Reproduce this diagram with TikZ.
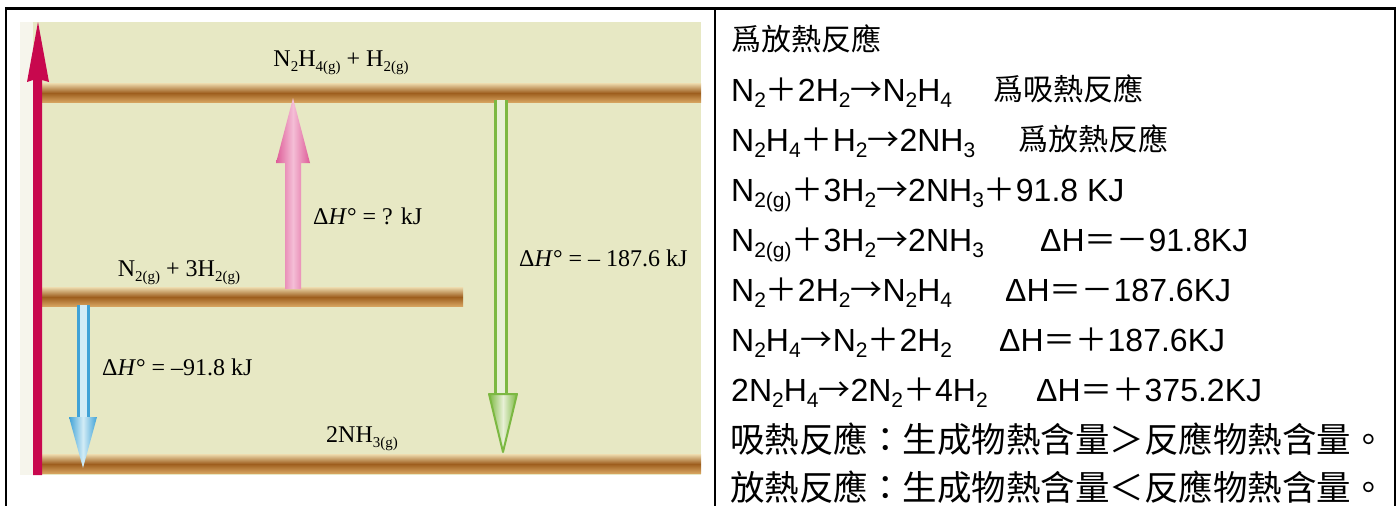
\documentclass[tikz,border=0pt]{standalone}
\usepackage{fontspec}
\setmainfont{Liberation Serif}
\newfontfamily\sansf{Liberation Sans}
\newfontfamily\cjk{Noto Sans CJK TC}
\definecolor{bgyel}{RGB}{231,232,196}
\definecolor{bgwhite}{RGB}{246,245,236}
\definecolor{tanlight}{RGB}{234,214,168}
\definecolor{tanmid}{RGB}{216,166,98}
\definecolor{browndark}{RGB}{158,94,30}
\definecolor{crim}{RGB}{200,8,78}
\definecolor{pinkA}{RGB}{222,92,152}
\definecolor{pinkB}{RGB}{244,190,214}
\definecolor{greenA}{RGB}{124,184,66}
\definecolor{greenB}{RGB}{232,240,214}
\definecolor{blueA}{RGB}{64,162,214}
\definecolor{blueB}{RGB}{210,236,246}
\newcommand\sbs[1]{\raisebox{-6.5pt}{\fontsize{21}{21}\selectfont #1}}
\newcommand\dsb[1]{\raisebox{-5pt}{\fontsize{15}{15}\selectfont #1}}
\newcommand\ck[1]{{\cjk #1}}
\tikzset{
  rtext/.style={anchor=base west, inner sep=0pt, font=\sansf\fontsize{32}{32}\selectfont},
  rsmall/.style={anchor=base west, inner sep=0pt, font=\cjk\fontsize{30}{30}\selectfont},
  rbig/.style={anchor=base west, inner sep=0pt, font=\cjk\fontsize{34.5}{34.5}\selectfont},
  dtext/.style={inner sep=0pt, font=\fontsize{24}{24}\selectfont},
  rule/.style={line width=2.5pt}
}
\newcommand\level[3]{\shade[top color=tanlight, bottom color=tanmid, middle color=browndark] (#1,#3-9.5) rectangle (#2,#3+9.5);}
\begin{document}
\begin{tikzpicture}[x=1pt,y=-1pt]
\useasboundingbox (0,0) rectangle (1400,506);
% picture background
\fill[bgyel] (20,22) rectangle (701,475);
\fill[bgwhite] (20,22) rectangle (33,475);
% levels
\level{41}{701}{93}
\level{41}{463}{297}
\level{41}{701}{464}
% red axis arrow
\fill[crim] (33,475) -- (33,80) -- (27,82) -- (38,22) -- (49,82) -- (42,80) -- (42,475) -- cycle;
% pink arrow
\shade[left color=pinkA, right color=pinkA, middle color=pinkB]
  (285,289) -- (285,163) -- (276,163) -- (293,98) -- (310,163) -- (301,163) -- (301,289) -- cycle;
% green arrow
\fill[greenB] (494,100) rectangle (508,395);
\draw[greenA, line width=3pt] (495.5,100) -- (495.5,394);
\draw[greenA, line width=3pt] (506.5,100) -- (506.5,394);
\shade[left color=greenA, right color=greenA, middle color=greenB, draw=greenA, line width=2pt, line join=round]
  (489,394) -- (517,394) -- (503,452) -- cycle;
% blue arrow
\fill[blueB] (77,305) rectangle (89,418);
\draw[blueA, line width=3pt] (78.5,305) -- (78.5,417);
\draw[blueA, line width=3pt] (88,305) -- (88,417);
\shade[left color=blueA, right color=blueA, middle color=blueB]
  (69,417) -- (97,417) -- (83,468) -- cycle;
% diagram labels
\node[dtext, anchor=base] (top) at (341,66) {N\dsb{2}H\dsb{4(g)} + H\dsb{2(g)}};
\node[dtext, anchor=base west] (dq) at (313,224) {Δ\textit{H}° = ? kJ};
\node[dtext, anchor=base west] (dg) at (519,266) {Δ\textit{H}° = – 187.6 kJ};
\node[dtext, anchor=base] (mid) at (179,276) {N\dsb{2(g)} + 3H\dsb{2(g)}};
\node[dtext, anchor=base west] (db) at (102,375) {Δ\textit{H}° = –91.8 kJ};
\node[dtext, anchor=base] (bot) at (362,442) {2NH\dsb{3(g)}};
% table rules
\draw[rule] (6,8.5) -- (1395,8.5);
\draw[rule] (6,7.25) -- (6,506);
\draw[rule] (715,7.25) -- (715,506);
\draw[rule] (1395,7.25) -- (1395,506);
% right column text
\node[rsmall] (l1) at (731,50) {爲放熱反應};
\node[rtext] (l2) at (731,101) {N\sbs{2}\ck{＋}2H\sbs{2}\ck{→}N\sbs{2}H\sbs{4}};
\node[rsmall] (l2b) at (993,100) {爲吸熱反應};
\node[rtext] (l3) at (731,151) {N\sbs{2}H\sbs{4}\ck{＋}H\sbs{2}\ck{→}2NH\sbs{3}};
\node[rsmall] (l3b) at (1018,150) {爲放熱反應};
\node[rtext] (l4) at (731,201) {N\sbs{2(g)}\ck{＋}3H\sbs{2}\ck{→}2NH\sbs{3}\ck{＋}91.8 KJ};
\node[rtext] (l5) at (731,251) {N\sbs{2(g)}\ck{＋}3H\sbs{2}\ck{→}2NH\sbs{3}};
\node[rtext] (l5b) at (1040,251) {ΔH\ck{＝－}91.8KJ};
\node[rtext] (l6) at (731,301) {N\sbs{2}\ck{＋}2H\sbs{2}\ck{→}N\sbs{2}H\sbs{4}};
\node[rtext] (l6b) at (1005,301) {ΔH\ck{＝－}187.6KJ};
\node[rtext] (l7) at (731,351) {N\sbs{2}H\sbs{4}\ck{→}N\sbs{2}\ck{＋}2H\sbs{2}};
\node[rtext] (l7b) at (999,351) {ΔH\ck{＝＋}187.6KJ};
\node[rtext] (l8) at (731,401) {2N\sbs{2}H\sbs{4}\ck{→}2N\sbs{2}\ck{＋}4H\sbs{2}};
\node[rtext] (l8b) at (1036,401) {ΔH\ck{＝＋}375.2KJ};
\node[rbig] (l9) at (730,452) {吸熱反應：生成物熱含量＞反應物熱含量。};
\node[rbig] (l10) at (730,500) {放熱反應：生成物熱含量＜反應物熱含量。};
\end{tikzpicture}
\end{document}
